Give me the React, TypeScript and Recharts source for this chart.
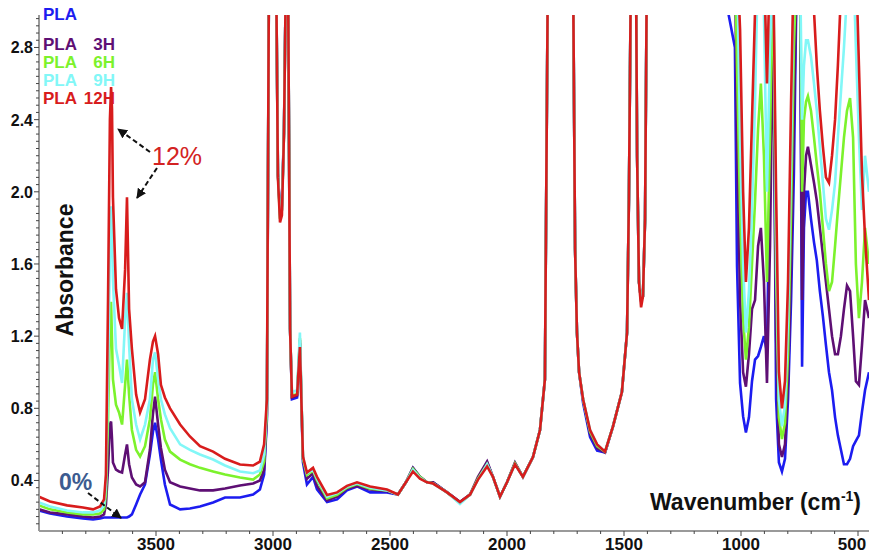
import { LineChart, Line, XAxis, YAxis } from "recharts"

// wavenumber grid (cm-1), high to low
const wavenumbers = [
  4000, 3953, 3880, 3812, 3769, 3739, 3722, 3714, 3705, 3697, 3692, 3688, 3684, 3671, 3658, 3645, 3632, 3624,
  3615, 3603, 3585, 3568, 3547, 3526, 3513, 3504, 3491, 3479, 3462, 3440, 3397, 3355, 3312, 3256, 3205, 3141,
  3085, 3056, 3038, 3026, 3017, 2987, 2979, 2970, 2962, 2953, 2944, 2936, 2927, 2919, 2897, 2885, 2872, 2855,
  2829, 2812, 2769, 2726, 2684, 2641, 2585, 2513, 2466, 2432, 2402, 2372, 2342, 2316, 2256, 2201, 2158, 2124,
  2085, 2060, 2030, 2000, 1966, 1932, 1889, 1859, 1838, 1825, 1718, 1709, 1701, 1692, 1675, 1645, 1615, 1581,
  1547, 1509, 1487, 1479, 1470, 1449, 1444, 1436, 1427, 1419, 1410, 1402, 1100, 1026, 1017, 1004, 991, 979,
  966, 953, 940, 927, 915, 902, 889, 876, 863, 850, 838, 825, 812, 799, 786, 774, 761, 748, 739, 731, 722, 714,
  701, 688, 676, 663, 650, 637, 624, 611, 598, 586, 573, 560, 547, 534, 521, 509, 496, 483, 470, 453,
]

const pla = [
  0.234, 0.217, 0.2, 0.19, 0.184, 0.19, 0.195, 0.195, 0.195, 0.195, 0.195, 0.195, 0.195, 0.195, 0.195, 0.195, 0.195, 0.195,
  0.2, 0.212, 0.267, 0.322, 0.378, 0.544, 0.67, 0.72, 0.627, 0.516, 0.378, 0.267, 0.24, 0.245, 0.256, 0.278, 0.306, 0.306,
  0.322, 0.35, 0.433, 0.74, 3.3, 3.3, 2.1, 1.9, 1.92, 2.35, 3.3, 3.3, 1.24, 0.85, 0.86, 1.16, 0.5, 0.378,
  0.42, 0.35, 0.28, 0.295, 0.345, 0.367, 0.334, 0.334, 0.322, 0.39, 0.47, 0.42, 0.39, 0.39, 0.334, 0.28, 0.322, 0.41,
  0.5, 0.42, 0.31, 0.39, 0.495, 0.42, 0.53, 0.68, 0.96, 3.3, 3.3, 1.68, 1.22, 1.0, 0.83, 0.64, 0.565, 0.555,
  0.7, 0.89, 1.22, 1.96, 3.3, 3.3, 2.2, 1.5, 1.4, 1.42, 1.85, 3.3, 3.3, 2.8, 1.59, 0.94, 0.755, 0.666,
  0.75, 0.95, 1.07, 1.09, 1.14, 1.2, 1.11, 2.2, 3.3, 0.85, 0.5, 0.45, 0.52, 0.85, 1.4, 2.1, 3.3, 3.3, 1.03, 1.8, 2.0, 2.0,
  1.85, 1.72, 1.62, 1.45, 1.31, 1.15, 1.0, 0.9, 0.75, 0.65, 0.57, 0.49, 0.49, 0.52, 0.59, 0.62, 0.65, 0.78, 0.9, 1.0,
]

const pla3h = [
  0.24, 0.223, 0.212, 0.2, 0.195, 0.2, 0.212, 0.267, 0.46, 0.71, 0.727, 0.63, 0.5, 0.46, 0.45, 0.444, 0.544, 0.6,
  0.49, 0.417, 0.378, 0.367, 0.39, 0.57, 0.77, 0.865, 0.71, 0.58, 0.46, 0.39, 0.367, 0.356, 0.345, 0.345, 0.356, 0.372,
  0.383, 0.4, 0.46, 0.766, 3.3, 3.3, 2.1, 1.88, 1.9, 2.33, 3.3, 3.3, 1.24, 0.86, 0.87, 1.18, 0.52, 0.41,
  0.44, 0.37, 0.29, 0.31, 0.355, 0.37, 0.35, 0.34, 0.322, 0.39, 0.47, 0.42, 0.39, 0.39, 0.334, 0.28, 0.322, 0.42,
  0.505, 0.42, 0.31, 0.39, 0.5, 0.42, 0.53, 0.68, 0.96, 3.3, 3.3, 1.68, 1.22, 1.0, 0.85, 0.66, 0.58, 0.555,
  0.7, 0.89, 1.22, 1.96, 3.3, 3.3, 2.2, 1.5, 1.4, 1.42, 1.85, 3.3, 3.3, 3.3, 2.3, 1.4, 1.0, 0.92,
  1.1, 1.35, 1.4, 1.7, 1.8, 1.5, 0.94, 1.7, 3.0, 1.2, 0.6, 0.53, 0.6, 0.95, 1.6, 2.4, 3.3, 3.3, 1.4, 2.0, 2.2, 2.25,
  2.15, 2.05, 1.95, 1.8, 1.65, 1.5, 1.35, 1.2, 1.1, 1.1, 1.2, 1.35, 1.48, 1.45, 1.2, 0.95, 0.93, 1.15, 1.4, 1.3,
]

const pla6h = [
  0.262, 0.24, 0.223, 0.212, 0.212, 0.217, 0.24, 0.322, 0.74, 1.24, 1.39, 1.18, 0.96, 0.82, 0.777, 0.71, 0.93, 1.07,
  0.875, 0.68, 0.57, 0.533, 0.59, 0.74, 0.93, 1.0, 0.85, 0.74, 0.627, 0.56, 0.516, 0.49, 0.47, 0.45, 0.433, 0.417,
  0.405, 0.433, 0.505, 0.79, 3.3, 3.3, 2.1, 1.85, 1.9, 2.33, 3.3, 3.3, 1.24, 0.87, 0.88, 1.19, 0.52, 0.43,
  0.455, 0.4, 0.3, 0.32, 0.36, 0.38, 0.355, 0.345, 0.322, 0.39, 0.465, 0.42, 0.39, 0.385, 0.334, 0.275, 0.322, 0.41,
  0.49, 0.42, 0.31, 0.39, 0.495, 0.42, 0.53, 0.68, 0.96, 3.3, 3.3, 1.68, 1.22, 1.0, 0.85, 0.67, 0.59, 0.56,
  0.7, 0.89, 1.22, 1.96, 3.3, 3.3, 2.2, 1.5, 1.4, 1.42, 1.85, 3.3, 3.3, 3.3, 2.7, 1.9, 1.3, 1.07,
  1.25, 1.6, 1.95, 2.35, 2.6, 2.2, 1.5, 2.3, 3.3, 1.55, 0.75, 0.63, 0.72, 1.1, 1.9, 2.8, 3.3, 3.3, 2.0, 2.4, 2.5, 2.53,
  2.45, 2.3, 2.15, 2.0, 1.8, 1.6, 1.45, 1.5, 1.7, 1.9, 2.1, 2.3, 2.45, 2.52, 2.3, 1.6, 1.3, 1.5, 1.8, 1.6,
]

const pla9h = [
  0.278, 0.256, 0.234, 0.223, 0.223, 0.234, 0.262, 0.378, 0.96, 1.68, 1.92, 1.74, 1.51, 1.13, 1.04, 0.94, 1.29, 1.44,
  1.15, 0.85, 0.71, 0.627, 0.71, 0.85, 1.07, 1.11, 0.96, 0.85, 0.766, 0.69, 0.6, 0.57, 0.544, 0.516, 0.483, 0.45,
  0.44, 0.455, 0.544, 0.82, 3.3, 3.3, 2.1, 1.86, 1.9, 2.33, 3.3, 3.3, 1.24, 0.89, 0.9, 1.22, 0.53, 0.44,
  0.46, 0.41, 0.31, 0.33, 0.365, 0.385, 0.36, 0.345, 0.322, 0.39, 0.46, 0.415, 0.39, 0.383, 0.334, 0.27, 0.322, 0.405,
  0.49, 0.42, 0.31, 0.39, 0.49, 0.42, 0.53, 0.68, 0.96, 3.3, 3.3, 1.68, 1.22, 1.0, 0.85, 0.68, 0.6, 0.56,
  0.7, 0.89, 1.22, 1.96, 3.3, 3.3, 2.2, 1.5, 1.4, 1.42, 1.85, 3.3, 3.3, 3.3, 3.3, 2.3, 1.6, 1.22,
  1.45, 1.9, 2.5, 3.3, 3.3, 3.0, 2.0, 2.8, 3.3, 1.75, 0.85, 0.7, 0.82, 1.3, 2.2, 3.3, 3.3, 3.3, 2.4, 2.7, 2.84, 2.84,
  2.75, 2.6, 2.45, 2.25, 2.05, 1.85, 1.79, 1.9, 2.05, 2.3, 2.55, 2.8, 3.1, 3.3, 3.3, 2.8, 2.3, 1.9, 2.2, 2.0,
]

const pla12h = [
  0.31, 0.284, 0.262, 0.25, 0.24, 0.256, 0.295, 0.433, 1.4, 2.4, 2.58, 2.46, 1.97, 1.46, 1.3, 1.24, 1.57, 1.97,
  1.35, 1.13, 0.876, 0.777, 0.85, 1.07, 1.17, 1.2, 1.1, 0.93, 0.86, 0.8, 0.71, 0.644, 0.59, 0.56, 0.52, 0.489,
  0.483, 0.505, 0.6, 0.85, 3.3, 3.3, 2.08, 1.83, 1.87, 2.33, 3.3, 3.3, 1.24, 0.865, 0.876, 1.14, 0.533, 0.444,
  0.47, 0.42, 0.32, 0.334, 0.37, 0.39, 0.367, 0.35, 0.322, 0.39, 0.45, 0.41, 0.39, 0.383, 0.334, 0.28, 0.322, 0.405,
  0.478, 0.42, 0.31, 0.39, 0.49, 0.42, 0.53, 0.68, 0.96, 3.3, 3.3, 1.68, 1.22, 1.0, 0.85, 0.68, 0.6, 0.56,
  0.7, 0.89, 1.22, 1.96, 3.3, 3.3, 2.2, 1.5, 1.36, 1.42, 1.85, 3.3, 3.3, 3.3, 3.3, 2.9, 2.0, 1.5,
  1.8, 2.4, 3.0, 3.3, 3.3, 3.3, 2.6, 3.3, 3.3, 2.0, 1.0, 0.8, 0.95, 1.5, 2.5, 3.3, 3.3, 3.3, 3.3, 3.3, 3.3, 3.3,
  3.3, 3.0, 2.7, 2.45, 2.25, 2.08, 2.05, 2.2, 2.4, 2.7, 3.1, 3.3, 3.3, 3.3, 3.3, 3.3, 2.7, 2.1, 1.75, 1.4,
]

const seriesNames = ["PLA", "PLA 3H", "PLA 6H", "PLA 9H", "PLA 12H"]
const seriesColors = ["#1c1cf0", "#5e0f74", "#7cf22c", "#82f7f7", "#d81c1c"]

const xMajor = [3500, 3000, 2500, 2000, 1500, 1000, 500]
const yMajor = [0.4, 0.8, 1.2, 1.6, 2.0, 2.4, 2.8]

const xTicks = Array.from({ length: 35 }, (_, i) => 500 + i * 100)
const yTicks = Array.from({ length: 71 }, (_, i) => Math.round((0.16 + i * 0.04) * 100) / 100)

const data = wavenumbers.map((wn, i) => ({
  wn,
  pla: pla[i],
  pla3h: pla3h[i],
  pla6h: pla6h[i],
  pla9h: pla9h[i],
  pla12h: pla12h[i],
}))

const keys = ["pla", "pla3h", "pla6h", "pla9h", "pla12h"]
const font = "'Liberation Sans', Arial, sans-serif"

function XTick(props: any) {
  const { x, y, payload } = props
  const major = xMajor.includes(payload.value)
  // keep the last label inside the picture, as in the original
  const tx = Math.min(x, 852)
  return (
    <g>
      <line x1={x} x2={x} y1={y} y2={y + (major ? 5 : 3)} stroke="#444" strokeWidth={1} />
      {major && (
        <text x={tx} y={y + 19} textAnchor="middle" fontSize={17} fontWeight="bold" fill="#111" fontFamily={font}>
          {payload.value}
        </text>
      )}
    </g>
  )
}

function YTick(props: any) {
  const { x, y, payload } = props
  const major = yMajor.some((v) => Math.abs(v - payload.value) < 1e-6)
  return (
    <g>
      <line x1={x - (major ? 5 : 3)} x2={x} y1={y} y2={y} stroke="#444" strokeWidth={1} />
      {major && (
        <text x={x - 6} y={y + 6} textAnchor="end" fontSize={16} fontWeight="bold" fill="#111" fontFamily={font}>
          {payload.value.toFixed(1)}
        </text>
      )}
    </g>
  )
}

export default function App() {
  return (
    <div style={{ position: "absolute", left: 0, top: 0, width: 869, height: 554, background: "#fff" }}>
      <LineChart width={869} height={554} data={data} margin={{ top: 15, right: 0, bottom: 0, left: 0 }}>
        <XAxis
          type="number"
          dataKey="wn"
          domain={[453, 4000]}
          reversed
          ticks={xTicks}
          interval={0}
          tickSize={0}
          tickMargin={0}
          tick={<XTick />}
          height={23}
          stroke="#9a9a9a"
          strokeWidth={2}
        />
        <YAxis
          type="number"
          domain={[0.12, 2.98]}
          allowDataOverflow
          ticks={yTicks}
          interval={0}
          tickSize={0}
          tickMargin={0}
          tick={<YTick />}
          width={39}
          stroke="#9a9a9a"
          strokeWidth={2}
        />
        {keys.map((k, i) => (
          <Line
            key={k}
            type="linear"
            dataKey={k}
            name={seriesNames[i]}
            stroke={seriesColors[i]}
            strokeWidth={2.6}
            dot={false}
            isAnimationActive={false}
          />
        ))}
      </LineChart>
      <svg width={869} height={554} style={{ position: "absolute", left: 0, top: 0, pointerEvents: "none" }}>
        <defs>
          <marker id="ah" viewBox="0 0 10 10" refX="9" refY="5" markerWidth="5" markerHeight="5" orient="auto">
            <path d="M0,0 L10,5 L0,10 z" fill="#111" />
          </marker>
        </defs>
        <g fontFamily={font} fontWeight="bold" fontSize={17}>
          <text x={43} y={20} fill={seriesColors[0]}>PLA</text>
          <text x={43} y={50} fill={seriesColors[1]}>PLA</text>
          <text x={115} y={50} fill={seriesColors[1]} textAnchor="end">3H</text>
          <text x={43} y={68} fill={seriesColors[2]}>PLA</text>
          <text x={115} y={68} fill={seriesColors[2]} textAnchor="end">6H</text>
          <text x={43} y={86} fill={seriesColors[3]}>PLA</text>
          <text x={115} y={86} fill={seriesColors[3]} textAnchor="end">9H</text>
          <text x={43} y={104} fill={seriesColors[4]}>PLA</text>
          <text x={115} y={104} fill={seriesColors[4]} textAnchor="end">12H</text>
        </g>
        <text x={152} y={165} fill="#d32222" fontFamily={font} fontSize={25}>12%</text>
        <text x={59} y={490} fill="#3c5b90" fontFamily={font} fontSize={23} fontWeight="bold">0%</text>
        <g stroke="#111" strokeWidth={2} strokeDasharray="5 3" fill="none">
          <line x1={150} y1={152} x2={118} y2={129} markerEnd="url(#ah)" />
          <line x1={157} y1={168} x2={137} y2={198} markerEnd="url(#ah)" />
          <line x1={88} y1={493} x2={121} y2={518} markerEnd="url(#ah)" />
        </g>
        <text
          x={0}
          y={0}
          transform="translate(73 270) rotate(-90)"
          textAnchor="middle"
          fontFamily={font}
          fontWeight="bold"
          fontSize={23}
          fill="#111"
        >
          Absorbance
        </text>
        <text x={650} y={510} fontFamily={font} fontWeight="bold" fontSize={23} fill="#111">
          Wavenumber (cm<tspan fontSize={14} dy={-9}>-1</tspan><tspan dy={9}>)</tspan>
        </text>
      </svg>
    </div>
  )
}
